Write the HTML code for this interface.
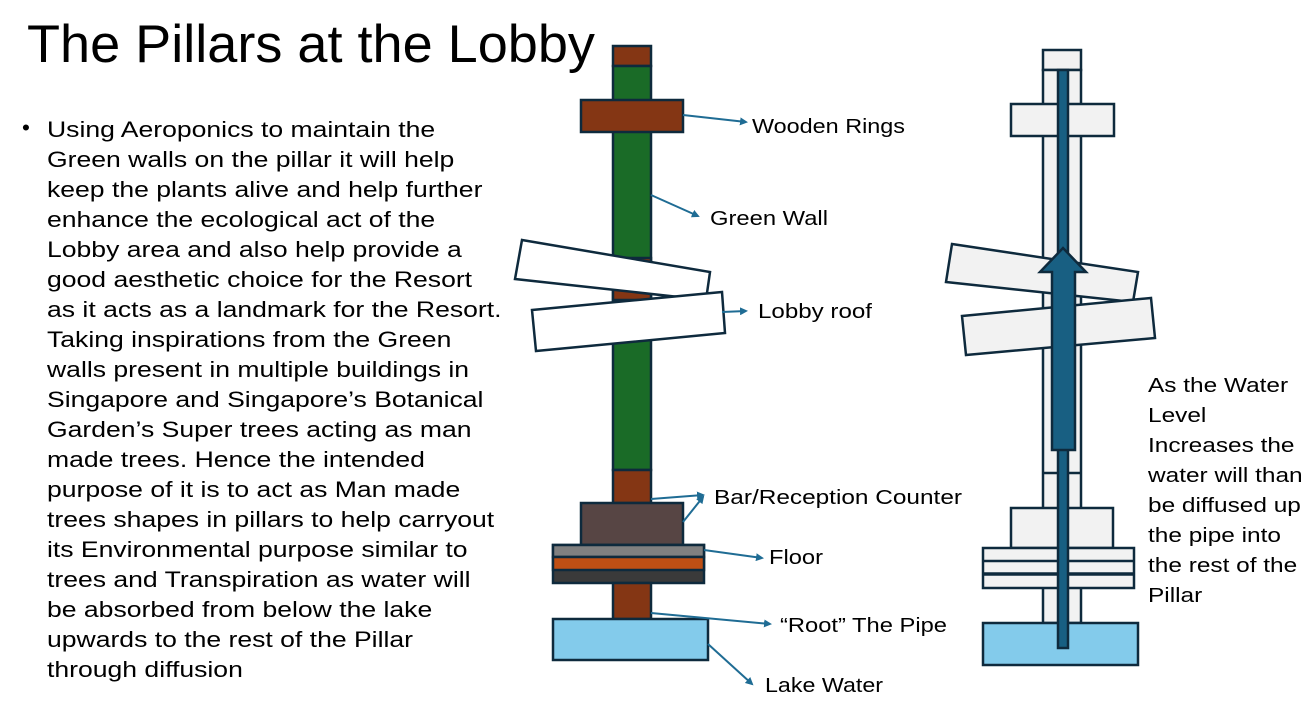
<!DOCTYPE html>
<html><head><meta charset="utf-8"><style>
body{margin:0;width:1316px;height:711px;background:#fff;overflow:hidden;position:relative;font-family:"Liberation Sans",sans-serif;color:#000}
.t{position:absolute;left:27px;top:14px;font-size:53px;white-space:nowrap;transform:scaleX(1.02);transform-origin:0 0}
.b{position:absolute;left:47px;top:115px;font-size:22.5px;line-height:30px;white-space:nowrap;transform:scaleX(1.18);transform-origin:0 0}
.dot{position:absolute;left:22px;top:115px;font-size:22.5px}
.r{position:absolute;left:1148px;top:371px;font-size:20px;line-height:30px;white-space:nowrap;transform:scaleX(1.22);transform-origin:0 0}
svg{position:absolute;left:0;top:0}
</style></head><body>
<div class="t">The Pillars at the Lobby</div>
<div class="dot">•</div>
<div class="b">Using Aeroponics to maintain the<br>Green walls on the pillar it will help<br>keep the plants alive and help further<br>enhance the ecological act of the<br>Lobby area and also help provide a<br>good aesthetic choice for the Resort<br>as it acts as a landmark for the Resort.<br>Taking inspirations from the Green<br>walls present in multiple buildings in<br>Singapore and Singapore’s Botanical<br>Garden’s Super trees acting as man<br>made trees. Hence the intended<br>purpose of it is to act as Man made<br>trees shapes in pillars to help carryout<br>its Environmental purpose similar to<br>trees and Transpiration as water will<br>be absorbed from below the lake<br>upwards to the rest of the Pillar<br>through diffusion</div>
<div class="r">As the Water<br>Level<br>Increases the<br>water will than<br>be diffused up<br>the pipe into<br>the rest of the<br>Pillar</div>
<svg width="1316" height="711" stroke="#0e2a3d" stroke-width="2.5">
<defs><marker id="a" markerWidth="8" markerHeight="8" refX="6" refY="4" orient="auto" markerUnits="userSpaceOnUse"><path d="M0,0 L8,4 L0,8z" fill="#1f6c94" stroke="none"/></marker></defs>
<rect x="613" y="46" width="38" height="20" fill="#843614"/>
<rect x="613" y="66" width="38" height="404" fill="#1a6b27"/>
<rect x="613" y="258" width="38" height="42" fill="#843614"/>
<rect x="581" y="100" width="102" height="32" fill="#843614"/>
<polygon points="522,240 710,272 706,300 515,279" fill="#fff"/>
<polygon points="532,310 722,292 725,333 536,351" fill="#fff"/>
<rect x="613" y="470" width="38" height="33" fill="#843614"/>
<rect x="581" y="503" width="102" height="42" fill="#574544"/>
<rect x="553" y="545" width="151" height="38" fill="#3a3a3a"/>
<rect x="553" y="545" width="151" height="12" fill="#808080"/>
<rect x="553" y="557" width="151" height="13" fill="#bf4f14"/>
<rect x="613" y="583" width="38" height="36" fill="#843614"/>
<rect x="553" y="619" width="155" height="41" fill="#83cbeb"/>
<g stroke="#1f6c94" stroke-width="2" marker-end="url(#a)" fill="none">
<line x1="683" y1="115" x2="746" y2="122"/>
<line x1="651" y1="195" x2="698" y2="216"/>
<line x1="722" y1="312" x2="746" y2="311"/>
<line x1="651" y1="499" x2="703" y2="495"/>
<line x1="683" y1="522" x2="703" y2="497"/>
<line x1="704" y1="550" x2="762" y2="558"/>
<line x1="651" y1="613" x2="770" y2="624"/>
<line x1="708" y1="644" x2="752" y2="684"/>
</g>
<g stroke="none" font-size="20" fill="#000" lengthAdjust="spacingAndGlyphs">
<text x="752" y="133" textLength="153" lengthAdjust="spacingAndGlyphs">Wooden Rings</text>
<text x="710" y="225" textLength="118" lengthAdjust="spacingAndGlyphs">Green Wall</text>
<text x="758" y="318" textLength="114" lengthAdjust="spacingAndGlyphs">Lobby roof</text>
<text x="714" y="504" textLength="248" lengthAdjust="spacingAndGlyphs">Bar/Reception Counter</text>
<text x="769" y="564" textLength="54" lengthAdjust="spacingAndGlyphs">Floor</text>
<text x="780" y="632" textLength="167" lengthAdjust="spacingAndGlyphs">“Root” The Pipe</text>
<text x="765" y="692" textLength="118" lengthAdjust="spacingAndGlyphs">Lake Water</text>
</g>
<rect x="1043" y="50" width="38" height="20" fill="#f2f2f2"/>
<rect x="1043" y="70" width="38" height="553" fill="#f2f2f2"/>
<line x1="1043" y1="473" x2="1081" y2="473"/>
<rect x="1011" y="104" width="103" height="32" fill="#f2f2f2"/>
<polygon points="952,244 1138,272 1133,302 946,282" fill="#f2f2f2"/>
<polygon points="962,316 1151,298 1155,338 966,355" fill="#f2f2f2"/>
<rect x="1011" y="508" width="102" height="40" fill="#f2f2f2"/>
<rect x="983" y="548" width="151" height="40" fill="#f2f2f2"/>
<line x1="983" y1="561" x2="1134" y2="561"/>
<line x1="983" y1="574" x2="1134" y2="574" stroke-width="3.5"/>
<rect x="983" y="623" width="155" height="42" fill="#83cbeb"/>
<rect x="1058" y="70" width="10" height="578" fill="#185f82"/>
<polygon points="1052,450 1075,450 1075,272 1086,272 1063,248 1040,272 1052,272" fill="#185f82"/>
</svg>
</body></html>
